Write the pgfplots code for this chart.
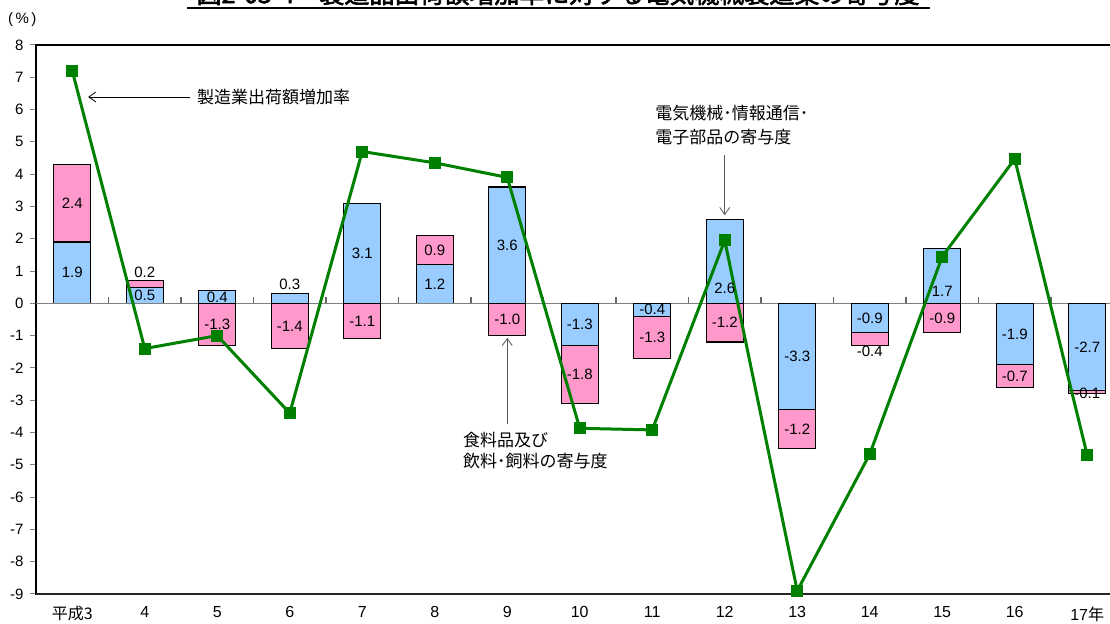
\documentclass[border=0pt]{standalone}
\usepackage{fontspec}
\setmainfont{Liberation Sans}
\newfontfamily\cjk{Noto Sans CJK JP}
\newfontfamily\cjkb[FakeBold=2.5]{Noto Sans CJK JP}
\usepackage{pgfplots}
\pgfplotsset{compat=1.18}
\usetikzlibrary{arrows.meta}

\definecolor{elec}{HTML}{99CCFF}
\definecolor{food}{HTML}{FF99CC}
\definecolor{mfg}{HTML}{008000}

\pgfplotsset{base/.style={
    scale only axis, width=1087.5pt, height=549pt,
    xmin=-0.5, xmax=14.5, ymin=-9, ymax=8,
    clip=false,
  },
  barstyle/.style={draw=black, line width=1.2pt},
}

\begin{document}
\begin{tikzpicture}
% frame, ticks and positive parts of the bars
\begin{axis}[base,
    ybar stacked, bar width=37pt,
    axis line style={black, line width=1.2pt},
    ytick={-9,...,8}, ytick pos=left,
    tick align=outside, major tick length=6pt,
    ytick style={gray, line width=1pt},
    xtick={0,...,14}, xtick pos=bottom,
    xtick style={draw=none},
    xticklabels={{\cjk 平成3},4,5,6,7,8,9,10,11,12,13,14,15,16,{17\cjk 年}},
    ticklabel style={font=\fontsize{15}{18}\selectfont},
    xticklabel style={yshift=-3pt, font=\fontsize{16}{18}\selectfont},
    yticklabel style={xshift=-3pt},
    /pgf/number format/assume math mode=true,
  ]
  \draw[gray, line width=1.2pt] (axis cs:-0.5,0) -- (axis cs:14.5,0);
  \pgfplotsinvokeforeach{0,...,13}{\draw[gray!80!black, line width=1.2pt] (axis cs:#1.5,0) -- (axis cs:#1.5,0.2);}
  \draw[black!85, line width=2.2pt] (axis cs:-0.5,-9) -- (axis cs:14.5,-9);
  % 電気機械・情報通信・電子部品 (positive)
  \addplot[barstyle, fill=elec] coordinates {
    (0,1.9) (1,0.5) (2,0.4) (3,0.3) (4,3.1) (5,1.2) (6,3.6) (7,0)
    (8,0) (9,2.6) (10,0) (11,0) (12,1.7) (13,0) (14,0)};
  % 食料品及び飲料・飼料 (positive)
  \addplot[barstyle, fill=food] coordinates {
    (0,2.4) (1,0.2) (2,0) (3,0) (4,0) (5,0.9) (6,0) (7,0)
    (8,0) (9,0) (10,0) (11,0) (12,0) (13,0) (14,0)};
\end{axis}

% negative parts of the bars
\begin{axis}[base, hide axis, ybar stacked, bar width=37pt]
  \addplot[barstyle, fill=elec] coordinates {
    (0,0) (1,0) (2,0) (3,0) (4,0) (5,0) (6,0) (7,-1.3)
    (8,-0.4) (9,0) (10,-3.3) (11,-0.9) (12,0) (13,-1.9) (14,-2.7)};
  \addplot[barstyle, fill=food] coordinates {
    (0,0) (1,0) (2,-1.3) (3,-1.4) (4,-1.1) (5,0) (6,-1.0) (7,-1.8)
    (8,-1.3) (9,-1.2) (10,-1.2) (11,-0.4) (12,-0.9) (13,-0.7) (14,-0.1)};
\end{axis}

% line, labels and notes
\begin{axis}[base, hide axis]
  % 製造業出荷額増加率
  \addplot[mfg, line width=3pt, mark=square*, mark size=4.5pt, mark options={solid}] coordinates {
    (0,7.2) (1,-1.4) (2,-1.0) (3,-3.4) (4,4.7) (5,4.35) (6,3.9) (7,-3.87)
    (8,-3.92) (9,1.95) (10,-8.9) (11,-4.67) (12,1.45) (13,4.47) (14,-4.7)};
  % value labels
  \addplot[draw=none, mark=none, nodes near coords, point meta=explicit symbolic,
    every node near coord/.append style={anchor=center, inner sep=0pt,
      font=\fontsize{15}{18}\selectfont}] coordinates {
    (0,3.1) [2.4] (0,0.95) [1.9]
    (1,0.97) [0.2] (1,0.25) [0.5]
    (2,0.2) [0.4] (2,-0.65) [-1.3]
    (3,0.58) [0.3] (3,-0.7) [-1.4]
    (4,1.55) [3.1] (4,-0.55) [-1.1]
    (5,0.6) [1.2] (5,1.65) [0.9]
    (6,1.8) [3.6] (6,-0.5) [-1.0]
    (7,-0.65) [-1.3] (7,-2.2) [-1.8]
    (8,-0.2) [-0.4] (8,-1.05) [-1.3]
    (9,0.45) [2.6] (9,-0.6) [-1.2]
    (10,-1.65) [-3.3] (10,-3.9) [-1.2]
    (11,-0.45) [-0.9] (11,-1.5) [-0.4]
    (12,0.37) [1.7] (12,-0.45) [-0.9]
    (13,-0.95) [-1.9] (13,-2.25) [-0.7]
    (14,-1.35) [-2.7] (14,-2.8) [-0.1]};

  \draw[black, line width=0.8pt, -{Straight Barb[length=7pt,width=10pt]}]
    (axis cs:1.62,6.39) -- (axis cs:0.22,6.39);
  \node[anchor=west, inner sep=0pt, font=\cjk\fontsize{17}{20}\selectfont]
    at (axis cs:1.72,6.39) {製造業出荷額増加率};

  \draw[gray!70!black, line width=0.8pt, -{Straight Barb[length=7pt,width=10pt]}]
    (axis cs:9,4.59) -- (axis cs:9,2.73);
  \node[anchor=west, inner sep=0pt, font=\cjk\fontsize{17}{20}\selectfont]
    at (axis cs:8.04,5.88) {電気機械･情報通信･};
  \node[anchor=west, inner sep=0pt, font=\cjk\fontsize{17}{20}\selectfont]
    at (axis cs:8.04,5.14) {電子部品の寄与度};

  \draw[gray!70!black, line width=0.8pt, -{Straight Barb[length=7pt,width=10pt]}]
    (axis cs:6,-3.74) -- (axis cs:6,-1.07);
  \node[anchor=west, inner sep=0pt, font=\cjk\fontsize{17}{20}\selectfont]
    at (axis cs:5.39,-4.23) {食料品及び};
  \node[anchor=west, inner sep=0pt, font=\cjk\fontsize{17}{20}\selectfont]
    at (axis cs:5.39,-4.88) {飲料･飼料の寄与度};

  \node[inner sep=0pt, font=\fontsize{15}{18}\selectfont]
    at (axis cs:-0.69,8.77) {(\,\%\,)};

  % title (cut off at the top as in the source)
  \node[anchor=base, inner sep=0pt, font=\cjkb\fontsize{25}{30}\selectfont]
    at (axis cs:6.7,9.297) {図2-05-4　製造品出荷額増加率に対する電気機械製造業の寄与度};
  \draw[line width=2pt] (axis cs:1.58,9.142) -- (axis cs:11.83,9.142);

  \coordinate (bbsw) at (axis cs:-0.9966,-9.929);
  \coordinate (bbne) at (axis cs:14.314,9.393);
\end{axis}
\pgfresetboundingbox
\path[use as bounding box] (bbsw) rectangle (bbne);
\end{tikzpicture}
\end{document}
